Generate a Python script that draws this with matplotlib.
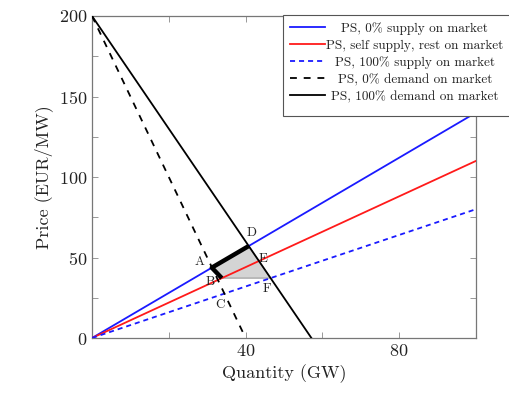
import matplotlib
matplotlib.use("Agg")
import matplotlib.pyplot as plt
from matplotlib.patches import Rectangle

plt.rcParams['font.family'] = 'serif'
plt.rcParams['font.serif'] = ['cmr10', 'DejaVu Serif']
plt.rcParams['axes.formatter.use_mathtext'] = True

# supply curves: price at quantity 0 and 100
supply_x = [0, 100]
supply_0pct = [0, 140]
supply_self = [0, 110]
supply_100pct = [0, 80]

# demand curves
demand_0pct_x = [0, 40]
demand_0pct_y = [200, 0]
demand_100pct_x = [0, 57.14]
demand_100pct_y = [200, 0]

# labelled points
point_names = ['A', 'B', 'C', 'D', 'E', 'F']
point_x = [31.2, 33.8, 34.5, 40.8, 43.5, 46.5]
point_y = [43.7, 37.2, 27.6, 57.1, 47.8, 37.2]

labels = ['PS, 0% supply on market', 'PS, self supply, rest on market',
          'PS, 100% supply on market', 'PS, 0% demand on market',
          'PS, 100% demand on market']

fig = plt.figure(figsize=(5.1, 3.97), dpi=100)
ax = fig.add_axes([0.1804, 0.1486, 0.7529, 0.8111])

P = dict(zip(point_names, zip(point_x, point_y)))

# shaded area A-D-F-B
poly = [P['A'], P['D'], P['F'], P['B']]
ax.fill([p[0] for p in poly], [p[1] for p in poly], facecolor='#d4d4d4',
        edgecolor='#999999', linewidth=0.8, zorder=1)

lw = 1.3
ax.plot(supply_x, supply_0pct, color='#1a1aff', lw=lw, label=labels[0], zorder=3)
ax.plot(supply_x, supply_self, color='#ff1a1a', lw=lw, label=labels[1], zorder=3)
ax.plot(supply_x, supply_100pct, color='#1a1aff', lw=lw, ls=(0, (2.8, 2.2)), label=labels[2], zorder=3)
ax.plot(demand_0pct_x, demand_0pct_y, color='black', lw=lw, ls=(0, (3.8, 3.8)), label=labels[3], zorder=3)
ax.plot(demand_100pct_x, demand_100pct_y, color='black', lw=lw, label=labels[4], zorder=3)

# thick edges B-A-D
ax.plot([P['B'][0], P['A'][0], P['D'][0]], [P['B'][1], P['A'][1], P['D'][1]],
        color='black', lw=3.2, solid_capstyle='butt', zorder=4)

offsets = {'A': (-8.5, 4), 'B': (-8.5, -3), 'C': (-3, -8), 'D': (2, 9.5),
           'E': (3, 1.5), 'F': (-2.5, -7.5)}
for n in point_names:
    dx, dy = offsets[n]
    ax.annotate(n, P[n], xytext=(dx, dy), textcoords='offset points',
                ha='center', va='center', fontsize=9.5, color='#222222', zorder=5)

ax.set_xlim(0, 100)
ax.set_ylim(0, 200)
ax.set_xticks([40, 80])
ax.set_xticks([20, 60], minor=True)
ax.set_yticks([0, 50, 100, 150, 200])
ax.set_yticks([25, 75, 125, 175], minor=True)
ax.tick_params(which='both', direction='in', top=True, right=True,
               length=4, width=0.6, color='#888888', labelsize=13,
               labelcolor='#222222')
for s in ax.spines.values():
    s.set_color('#777777')
    s.set_linewidth(0.9)

ax.set_xlabel('Quantity (GW)', fontsize=13, color='#222222')
ax.set_ylabel('Price (EUR/MW)', fontsize=13, color='#222222')

# legend frame drawn by hand (original has extra space at the bottom)
frame = Rectangle((283 / 510, 1 - 116 / 397), 240 / 510, 101 / 397,
                  transform=fig.transFigure, facecolor='white',
                  edgecolor='#555555', linewidth=0.8, clip_on=False, zorder=6)
ax.add_patch(frame)

leg = ax.legend(loc='upper left', bbox_to_anchor=(290 / 510, 1 - 22 / 397),
                bbox_transform=fig.transFigure, borderaxespad=0, borderpad=0,
                fontsize=9.5, handlelength=2.65, handletextpad=0.1,
                labelspacing=0.36, frameon=False)
leg.set_zorder(7)
for t in leg.get_texts():
    t.set_color('#222222')

# center legend texts like the original
fig.canvas.draw()
r = fig.canvas.get_renderer()
widths = [t.get_window_extent(r).width for t in leg.get_texts()]
wmax = max(widths)
for t, w in zip(leg.get_texts(), widths):
    t.set_position(((wmax - w) / 2, 0))

fig.savefig('out.png', dpi=100)
